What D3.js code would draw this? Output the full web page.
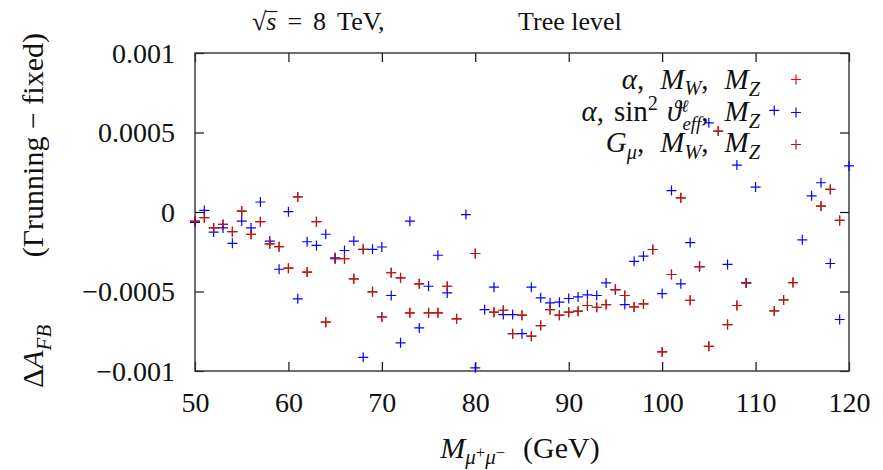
<!DOCTYPE html>
<html>
<head>
<meta charset="utf-8">
<script src="https://cdn.jsdelivr.net/npm/d3@7"></script>
<style>
  html, body { margin: 0; padding: 0; background: #fff; }
  svg { display: block; }
  text { font-family: "Liberation Serif", "DejaVu Serif", serif; fill: #111; white-space: pre; }
</style>
</head>
<body>
<svg id="chart" width="883" height="470"></svg>
<script>
// ---------------- data ----------------
const massGeV = [50,51,52,53,54,55,56,57,58,59,60,61,62,63,64,65,66,67,68,69,70,
  71,72,73,74,75,76,77,78,79,80,81,82,83,84,85,86,87,88,89,90,
  91,92,93,94,95,96,97,98,99,100,101,102,103,104,105,106,107,108,109,110,
  111,112,113,114,115,116,117,118,119,120];

// G_mu, M_W, M_Z (dark red)
const gmuMwMz = [-0.000057,-0.000036,-0.000100,-0.000078,-0.000124,0.000006,-0.000140,-0.000061,-0.000200,-0.000218,-0.000353,
  0.000095,-0.000378,-0.000061,-0.000693,-0.000294,-0.000294,-0.000420,-0.000235,-0.000502,-0.000660,
  -0.000382,-0.000414,-0.000634,-0.000452,-0.000634,-0.000634,-0.000467,-0.000672,null,-0.000261,
  null,-0.000630,-0.000618,-0.000765,-0.000649,-0.000781,-0.000714,-0.000614,-0.000649,-0.000630,
  -0.000624,-0.000588,-0.000599,-0.000582,-0.000488,-0.000525,-0.000597,-0.000578,-0.000236,-0.000880,
  -0.000393,0.000089,-0.000555,-0.000343,-0.000845,0.000509,-0.000708,-0.000588,-0.000446,null,
  null,-0.000622,-0.000553,-0.000444,null,null,0.000037,0.000142,-0.000053,null];

// alpha, M_W, M_Z (red) - coincides with the G_mu scheme, hidden below it
const alphaMwMz = [-0.000057,-0.000036,-0.000100,-0.000078,-0.000124,0.000006,-0.000140,-0.000061,-0.000200,-0.000218,-0.000353,
  0.000095,-0.000378,-0.000061,-0.000693,-0.000294,-0.000294,-0.000420,-0.000235,-0.000502,-0.000660,
  -0.000382,-0.000414,-0.000634,-0.000452,-0.000634,-0.000634,-0.000467,-0.000672,null,-0.000261,
  null,-0.000630,-0.000618,-0.000765,-0.000649,-0.000781,-0.000714,-0.000614,-0.000649,-0.000630,
  -0.000624,-0.000588,-0.000599,-0.000582,-0.000488,-0.000525,-0.000597,-0.000578,-0.000236,-0.000880,
  -0.000393,0.000089,-0.000555,-0.000343,-0.000845,0.000509,-0.000708,-0.000588,-0.000446,null,
  null,-0.000622,-0.000553,-0.000444,null,null,0.000037,0.000142,-0.000053,null];

// alpha, sin^2 theta_eff, M_Z (blue)
const alphaSwMz = [-0.000065,0.000010,-0.000126,-0.000100,-0.000197,-0.000057,-0.000100,0.000063,-0.000183,-0.000360,0.000002,
  -0.000546,-0.000187,-0.000210,-0.000140,-0.000288,-0.000242,-0.000183,-0.000914,-0.000235,-0.000220,
  -0.000525,-0.000823,-0.000058,-0.000729,-0.000467,-0.000272,-0.000509,null,-0.000016,-0.000980,
  -0.000614,-0.000473,-0.000645,-0.000645,-0.000765,-0.000473,-0.000540,-0.000571,-0.000567,-0.000544,
  -0.000534,-0.000521,-0.000525,-0.000446,-0.000488,-0.000582,-0.000310,-0.000278,null,-0.000513,
  0.000135,-0.000452,-0.000192,-0.000343,0.000561,null,-0.000330,0.000295,-0.000446,0.000157,
  null,0.000639,null,null,-0.000175,0.000102,0.000184,-0.000324,-0.000676,0.000290];

const xTicks = [50,60,70,80,90,100,110,120];
const xTickLabels = ["50","60","70","80","90","100","110","120"];
const yTicks = [-0.001,-0.0005,0,0.0005,0.001];
const yTickLabels = ["\u22120.001","\u22120.0005","0","0.0005","0.001"];

const seriesNames = ["alphaMwMz","alphaSwMz","gmuMwMz"];
const seriesColors = ["#ff0000","#0000ff","#a81c1c"];

// ---------------- drawing ----------------
const svg = d3.select("#chart");
const x = d3.scaleLinear().domain([50,120]).range([195,849]);
const y = d3.scaleLinear().domain([-0.001,0.001]).range([371,53]);

// axes (inner ticks, mirrored)
const fs = 28;
const axB = svg.append("g").attr("transform",`translate(0,${y(-0.001)})`)
  .call(d3.axisBottom(x).tickValues(xTicks).tickSize(-9).tickPadding(21)
    .tickFormat((d,i)=>xTickLabels[i]));
const axT = svg.append("g").attr("transform",`translate(0,${y(0.001)})`)
  .call(d3.axisTop(x).tickValues(xTicks).tickSize(-9).tickFormat(""));
const axL = svg.append("g").attr("transform",`translate(${x(50)},0)`)
  .call(d3.axisLeft(y).tickValues(yTicks).tickSize(-9).tickPadding(20)
    .tickFormat((d,i)=>yTickLabels[i]));
const axR = svg.append("g").attr("transform",`translate(${x(120)},0)`)
  .call(d3.axisRight(y).tickValues(yTicks).tickSize(-9).tickFormat(""));
[axB,axT,axL,axR].forEach(g=>{
  g.select(".domain").remove();
  g.selectAll(".tick line").attr("stroke","#111").attr("stroke-width",1.2);
  g.selectAll("text").attr("font-size",fs).attr("font-family","Liberation Serif, serif").attr("fill","#111");
});
axL.selectAll("text").attr("dy","0.33em");

// frame
svg.append("rect")
  .attr("x",x(50)).attr("y",y(0.001))
  .attr("width",x(120)-x(50)).attr("height",y(-0.001)-y(0.001))
  .attr("fill","none").attr("stroke","#333").attr("stroke-width",1.4);

// data points as "+" marks
const half = 5;
const plusPath = (cx,cy) => `M${cx-half},${cy}H${cx+half}M${cx},${cy-half}V${cy+half}`;
const seriesValues = {alphaMwMz, alphaSwMz, gmuMwMz};
seriesNames.forEach((name,si)=>{
  const pts = massGeV.map((m,i)=>({m, v: seriesValues[name][i]})).filter(d=>d.v!==null);
  svg.append("g").selectAll("path").data(pts).join("path")
    .attr("d",d=>plusPath(x(d.m),y(d.v)))
    .attr("stroke",seriesColors[si]).attr("stroke-width",1.2).attr("fill","none");
});

// math-like text helper: pos = baseline shift as fraction of size (positive = down)
function mathText(parent, segs, size, attrs){
  const t = parent.append("text").attr("font-size",size);
  Object.entries(attrs).forEach(([k,v])=>t.attr(k,v));
  let cur = 0;
  segs.forEach(s=>{
    const target = (s.pos || 0)*size;
    const ts = t.append("tspan").text(s.t);
    if (target!==cur) ts.attr("dy", target-cur);
    cur = target;
    if (s.small) ts.attr("font-size", size*s.small);
    if (s.i) ts.attr("font-style","italic");
    if (s.dx) ts.attr("dx", s.dx);
  });
  return t;
}
const SUB = 0.25, SUP = -0.38;

// title
const title1 = mathText(svg, [
  {t:"\u221A"},{t:"s",i:true},{t:"=",dx:11},{t:"8",dx:11},{t:"TeV,",dx:11}
], 26, {x:252, y:30});
const sStart = title1.node().getStartPositionOfChar(1);
const sEnd = title1.node().getEndPositionOfChar(1);
svg.append("line").attr("x1",sStart.x-1).attr("x2",sEnd.x+1)
  .attr("y1",11.5).attr("y2",11.5).attr("stroke","#111").attr("stroke-width",1.2);
svg.append("text").attr("x",518).attr("y",30).attr("font-size",26).text("Tree level");

// x-axis title
mathText(svg, [
  {t:"M",i:true},
  {t:"\u03BC",i:true,pos:0.2,small:0.7},{t:"+",pos:0.0,small:0.55},
  {t:"\u03BC",i:true,pos:0.2,small:0.7},{t:"\u2212",pos:0.0,small:0.55},
  {t:"(GeV)",dx:18}
], 30, {x:520, y:458, "text-anchor":"middle"});

// y-axis title (rotated): real y = -u
const yt = svg.append("g").attr("transform","translate(43,0) rotate(-90)");
mathText(yt, [
  {t:"\u0394"},{t:"A",i:true},{t:"FB",i:true,pos:SUB,small:0.7}
], 30, {x:-388, y:0, "text-anchor":"start"});
mathText(yt, [
  {t:"(\u0393running \u2212 fixed)"}
], 30, {x:-33, y:0, "text-anchor":"end"});

// legend
const legendRows = [
  {segs:[{t:"\u03B1",i:true},{t:",",dx:0},{t:"M",i:true,dx:16},{t:"W",i:true,pos:0.2,small:0.7},{t:","},{t:"M",i:true,dx:16},{t:"Z",i:true,pos:SUB,small:0.7}], y:89, sy:79.5},
  {segs:[{t:"\u03B1",i:true},{t:","},{t:"sin",dx:10},{t:"2",pos:SUP,small:0.7},{t:"\u03D1",i:true,dx:9},{t:"\u2113",i:true,pos:-0.3,small:0.6},{t:"eff",i:true,pos:0.3,small:0.65,dx:-6},{t:","},{t:"M",i:true,dx:16},{t:"Z",i:true,pos:SUB,small:0.7}], y:121, sy:112.5},
  {segs:[{t:"G",i:true},{t:"\u03BC",i:true,pos:SUB,small:0.7},{t:","},{t:"M",i:true,dx:16},{t:"W",i:true,pos:SUB,small:0.7},{t:","},{t:"M",i:true,dx:16},{t:"Z",i:true,pos:SUB,small:0.7}], y:152, sy:144.5}
];
legendRows.forEach((r,i)=>{
  mathText(svg, r.segs, 29, {x:760, y:r.y, "text-anchor":"end"});
  svg.append("path").attr("d",plusPath(796,r.sy))
    .attr("stroke",seriesColors[i]).attr("stroke-width",1.2).attr("fill","none");
});
</script>
</body>
</html>
